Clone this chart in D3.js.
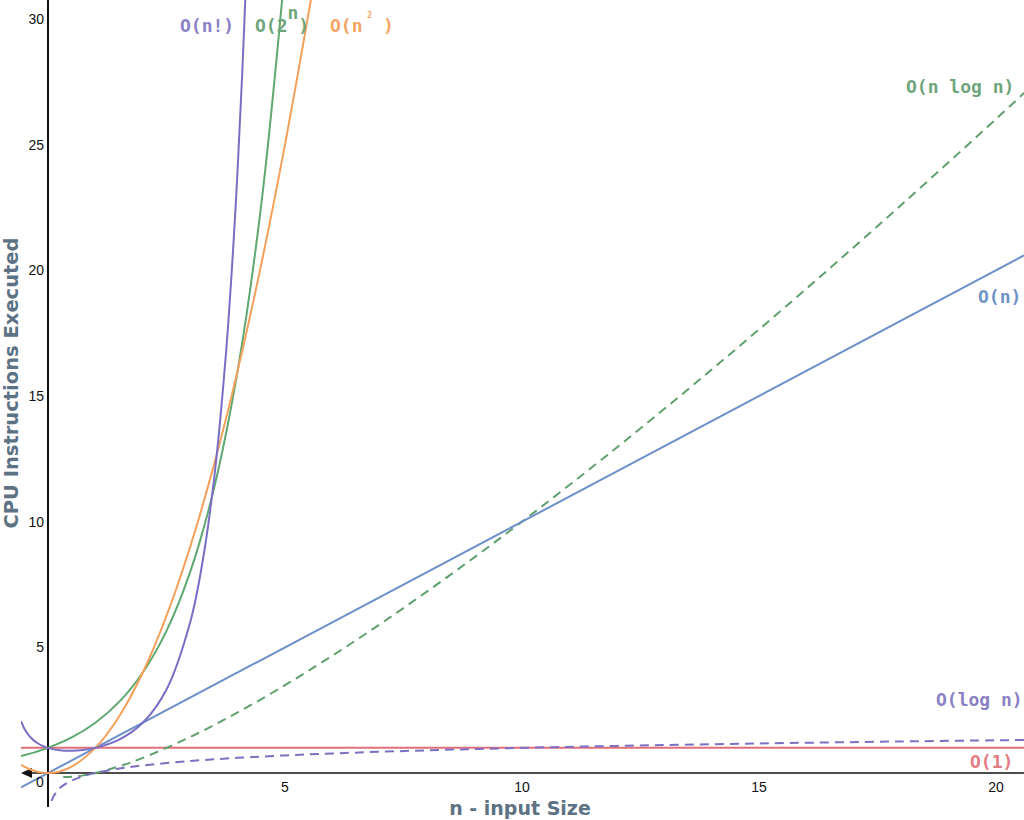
<!DOCTYPE html>
<html>
<head>
<meta charset="utf-8">
<script src="https://cdn.jsdelivr.net/npm/d3@7"></script>
<style>
  html, body { margin: 0; padding: 0; background: #ffffff; }
  svg { display: block; }
</style>
</head>
<body>
<svg id="chart" width="1024" height="820"></svg>
<script>
// ---------------- data ----------------
const xTicks = [5, 10, 15, 20];
const yTicks = [5, 10, 15, 20, 25, 30];

const constantN = [-0.57, 20.6];
const constantV = [1, 1];

const linearN = [-0.57, 20.6];
const linearV = [-0.57, 20.6];

const nlognN = [0.32, 0.37, 0.5, 0.75, 1, 1.5, 2, 3, 4, 5, 6, 7, 8, 9, 10, 12, 14, 16, 18, 20, 20.6];
const nlognV = [-0.158, -0.160, -0.151, -0.094, 0, 0.264, 0.602, 1.431, 2.408, 3.495, 4.669, 5.916, 7.225, 8.588, 10, 12.95, 16.05, 19.27, 22.60, 26.02, 27.07];

const lognN = [0.02, 0.03, 0.05, 0.1, 0.2, 0.3, 0.5, 0.75, 1, 1.5, 2, 3, 4, 5, 6, 8, 10, 12, 15, 18, 20.6];
const lognV = [-1.699, -1.523, -1.301, -1, -0.699, -0.523, -0.301, -0.125, 0, 0.176, 0.301, 0.477, 0.602, 0.699, 0.778, 0.903, 1, 1.079, 1.176, 1.255, 1.314];

const squareN = [-0.57, -0.4, -0.2, 0, 0.25, 0.5, 1, 1.5, 2, 2.5, 3, 3.5, 4, 4.5, 5, 5.55, 5.7];
const squareV = [0.325, 0.16, 0.04, 0, 0.0625, 0.25, 1, 2.25, 4, 6.25, 9, 12.25, 16, 20.25, 25, 30.8, 32.49];

const expN = [-0.57, -0.25, 0, 0.5, 1, 1.5, 2, 2.5, 3, 3.5, 4, 4.5, 5];
const expV = [0.674, 0.841, 1, 1.414, 2, 2.828, 4, 5.657, 8, 11.31, 16, 22.63, 32];

const factN = [-0.57, -0.5, -0.4, -0.3, -0.2, -0.1, 0, 0.25, 0.5, 0.75, 1, 1.5, 2, 2.5, 3, 3.25, 3.5, 3.75, 3.9, 4, 4.1, 4.2];
const factV = [2.06, 1.7725, 1.4892, 1.2981, 1.1642, 1.0686, 1, 0.9064, 0.8862, 0.9191, 1, 1.3293, 2, 3.3234, 6, 8.285, 11.632, 16.586, 20.67, 24, 27.93, 32.58];

// ---------------- layout ----------------
const svg = d3.select("#chart");
const plotLeft = 21, plotRight = 1024, plotTop = 0, plotBottom = 807;

const x = d3.scaleLinear().domain([0, 20]).range([48, 996]);
const y = d3.scaleLinear().domain([0, 30]).range([773, 19]);

const series = [
  { n: constantN, v: constantV, color: "#e2707a", dash: null },
  { n: nlognN, v: nlognV, color: "#5fa06e", dash: "9,6" },
  { n: lognN, v: lognV, color: "#7b70c2", dash: "9,6" },
  { n: linearN, v: linearV, color: "#6b8fc9", dash: null },
  { n: expN, v: expV, color: "#5fa86f", dash: null },
  { n: squareN, v: squareV, color: "#f5a05a", dash: null },
  { n: factN, v: factV, color: "#7a6ec4", dash: null }
];

svg.append("defs").append("clipPath").attr("id", "plotClip")
  .append("rect")
  .attr("x", plotLeft).attr("y", plotTop)
  .attr("width", plotRight - plotLeft).attr("height", plotBottom - plotTop);

// axes
const axisColor = "#111111";
svg.append("line")
  .attr("x1", x(0)).attr("x2", x(0))
  .attr("y1", plotTop).attr("y2", plotBottom)
  .attr("stroke", axisColor).attr("stroke-width", 2);
svg.append("line")
  .attr("x1", plotLeft + 6).attr("x2", plotRight)
  .attr("y1", y(0)).attr("y2", y(0))
  .attr("stroke", axisColor).attr("stroke-width", 1.6);
svg.append("path")
  .attr("d", `M${plotLeft},${y(0)} L${plotLeft + 11},${y(0) - 5} L${plotLeft + 11},${y(0) + 5} Z`)
  .attr("fill", axisColor);

// curves
const g = svg.append("g").attr("clip-path", "url(#plotClip)");
const line = d3.line()
  .x(d => x(d[0])).y(d => y(d[1]))
  .curve(d3.curveCatmullRom.alpha(0.5));

series.forEach(s => {
  const pts = s.n.map((n, i) => [n, s.v[i]]);
  g.append("path")
    .datum(pts)
    .attr("d", line)
    .attr("fill", "none")
    .attr("stroke", s.color)
    .attr("stroke-width", 2)
    .attr("stroke-dasharray", s.dash);
});

// tick labels
const tickFont = "'Liberation Sans', Arial, sans-serif";
svg.append("g").selectAll("text").data(xTicks).join("text")
  .attr("x", d => x(d)).attr("y", y(0) + 19)
  .attr("text-anchor", "middle")
  .attr("font-family", tickFont).attr("font-size", 14).attr("fill", "#111")
  .text(d => d);
svg.append("g").selectAll("text").data(yTicks).join("text")
  .attr("x", 44).attr("y", d => y(d) + 5)
  .attr("text-anchor", "end")
  .attr("font-family", tickFont).attr("font-size", 14).attr("fill", "#111")
  .text(d => d);
svg.append("text")
  .attr("x", 40).attr("y", y(0) + 14)
  .attr("text-anchor", "middle")
  .attr("font-family", tickFont).attr("font-size", 14).attr("fill", "#111")
  .text("0");

// axis titles
const titleColor = "#5d7284";
svg.append("text")
  .attr("x", 520).attr("y", 815)
  .attr("text-anchor", "middle")
  .attr("font-family", "'DejaVu Sans', Verdana, sans-serif")
  .attr("font-weight", "bold").attr("font-size", 19)
  .attr("fill", titleColor)
  .text("n - input Size");
svg.append("text")
  .attr("transform", "translate(18,383) rotate(-90)")
  .attr("text-anchor", "middle")
  .attr("font-family", "'DejaVu Sans', Verdana, sans-serif")
  .attr("font-weight", "bold").attr("font-size", 19.5)
  .attr("fill", titleColor)
  .text("CPU Instructions Executed");

// curve labels
const mono = "'DejaVu Sans Mono', 'Liberation Mono', monospace";
function label(px, py, color, parts) {
  const t = svg.append("text")
    .attr("x", px).attr("y", py)
    .attr("font-family", mono).attr("font-size", 18)
    .attr("font-weight", "bold")
    .attr("fill", color);
  parts.forEach(p => {
    const ts = t.append("tspan").text(p.t);
    if (p.dy) ts.attr("dy", p.dy);
    if (p.fs) ts.attr("font-size", p.fs);
  });
}
label(180, 32, "#8a80c4", [{ t: "O(n!)" }]);
label(255, 32, "#6fa57c", [{ t: "O(2" }, { t: "n", dy: -13 }, { t: ")", dy: 13 }]);
label(330, 32, "#f4a462", [{ t: "O(n" }, { t: " ", fs: 8 }, { t: "2", dy: -14, fs: 8 }, { t: " )", dy: 14 }]);
label(906, 93, "#6fa57c", [{ t: "O(n log n)" }]);
label(978, 303, "#7093c7", [{ t: "O(n)" }]);
label(936, 706, "#8a80c4", [{ t: "O(log n)" }]);
label(970, 768, "#e37a80", [{ t: "O(1)" }]);
</script>
</body>
</html>
